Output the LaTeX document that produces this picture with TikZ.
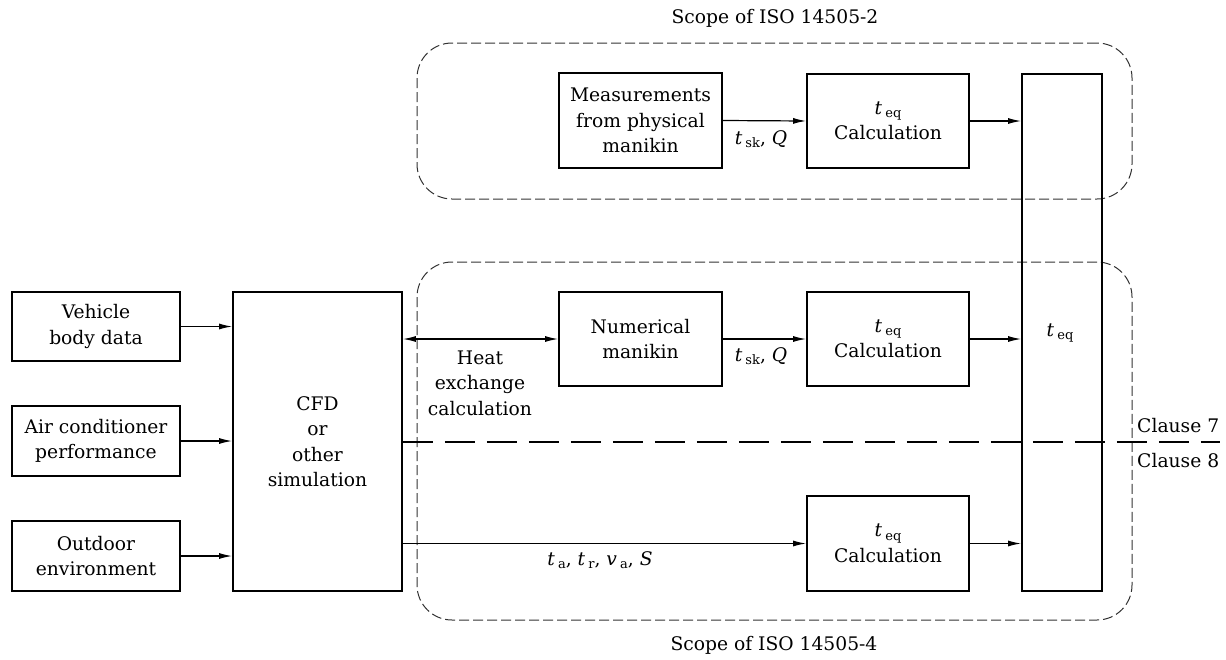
\documentclass[tikz,border=0pt]{standalone}
\usepackage{fontspec}
\setmainfont{DejaVu Serif}
\usetikzlibrary{arrows.meta}
\newcommand\lowsub[1]{\raisebox{-0.35ex}{\fontsize{13}{13}\selectfont #1}}
\newcommand\tvar[1]{\textit{t}\,\lowsub{#1}}
\definecolor{scopegray}{HTML}{333333}
\begin{document}
\begin{tikzpicture}[x=1pt,y=-1pt,
  every node/.style={font=\fontsize{18.7}{25.5}\selectfont, inner sep=0pt},
  blk/.style={draw, line width=1.8pt, align=center},
  flow/.style={line width=1.2pt, -{Latex[length=13pt,width=6pt]}},
  flowboth/.style={line width=1.2pt, {Latex[length=13pt,width=6pt]}-{Latex[length=13pt,width=6pt]}},
  scopebox/.style={draw=scopegray, line width=1pt, dash pattern=on 10pt off 4pt, rounded corners=35pt},
  clauseline/.style={line width=2.2pt, dash pattern=on 30pt off 12pt},
  lbl/.style={align=center}
]
\useasboundingbox (0,0) rectangle (1226,659);

% scope regions
\node[scopebox, minimum width=715, minimum height=156] (scopeA) at (774.5,121) {};
\node[scopebox, minimum width=715, minimum height=358] (scopeB) at (774.5,441) {};
\node[lbl] (scopeAlbl) at (775,18) {Scope of ISO 14505-2};
\node[lbl] (scopeBlbl) at (774,645) {Scope of ISO 14505-4};

% input boxes
\node[blk, minimum width=168, minimum height=69] (veh) at (96,326.5) {Vehicle\\body data};
\node[blk, minimum width=168, minimum height=70] (ac) at (96,441) {Air conditioner\\performance};
\node[blk, minimum width=168, minimum height=70] (out) at (96,556) {Outdoor\\environment};

% simulation
\node[blk, minimum width=169, minimum height=299] (cfd) at (317.5,441.5) {CFD\\or\\other\\simulation};

% manikins
\node[blk, minimum width=163, minimum height=95] (meas) at (640.5,120.5) {Measurements\\from physical\\manikin};
\node[blk, minimum width=163, minimum height=94] (num) at (640.5,339) {Numerical\\manikin};

% calculation boxes
\node[blk, minimum width=162, minimum height=94] (calcA) at (888,121) {\tvar{eq}\\Calculation};
\node[blk, minimum width=162, minimum height=94] (calcB) at (888,339) {\tvar{eq}\\Calculation};
\node[blk, minimum width=162, minimum height=95] (calcC) at (888,543.5) {\tvar{eq}\\Calculation};

% result column
\node[blk, minimum width=80, minimum height=517] (teq) at (1062,332.5) {};
\node[lbl] (teqlbl) at (1060,333) {\tvar{eq}};

% inputs into simulation
\draw[flow] (veh.east) -- (veh.east -| cfd.west);
\draw[flow] (ac.east) -- (ac.east -| cfd.west);
\draw[flow] (out.east) -- (out.east -| cfd.west);

% physical manikin path
\draw[flow] (meas.east) -- (calcA.west);
\node[lbl] (qA) at (761,139) {\tvar{sk}, \textit{Q}};
\draw[flow] (calcA.east) -- (calcA.east -| teq.west);

% numerical manikin path
\draw[flowboth] (cfd.east |- num.west) -- (num.west);
\node[lbl] (heat) at (480,383) {Heat\\exchange\\calculation};
\draw[flow] (num.east) -- (calcB.west);
\node[lbl] (qB) at (761,356) {\tvar{sk}, \textit{Q}};
\draw[flow] (calcB.east) -- (calcB.east -| teq.west);

% direct environment path
\draw[flow] (cfd.east |- calcC.west) -- (calcC.west);
\node[lbl] (env) at (600,560) {\tvar{a}, \tvar{r}, \textit{v}\,\lowsub{a}, \textit{S}};
\draw[flow] (calcC.east) -- (calcC.east -| teq.west);

% clause boundary
\coordinate (clend) at (1220,442);
\draw[clauseline] (cfd.east |- clend) -- (clend);
\node[anchor=west] (cl7) at (1137,426) {Clause 7};
\node[anchor=west] (cl8) at (1137,461) {Clause 8};
\end{tikzpicture}
\end{document}
